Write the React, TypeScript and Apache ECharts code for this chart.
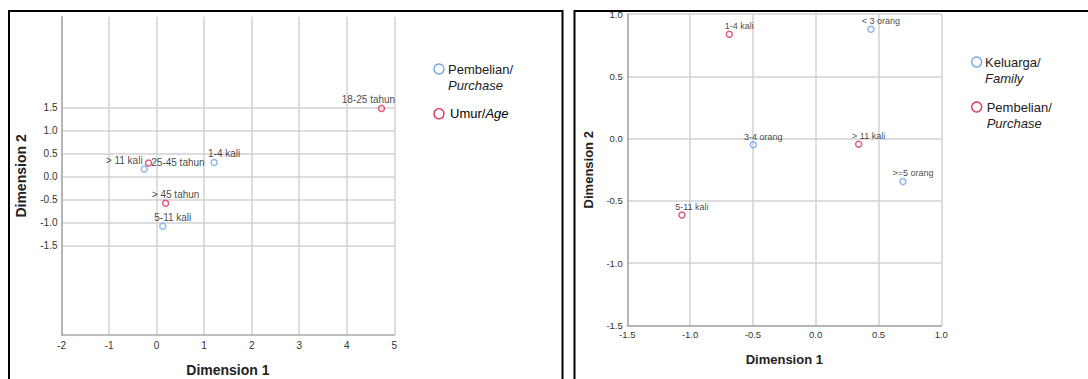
import React, { useEffect, useRef } from 'react';
import * as echarts from 'echarts';

// ---------- data ----------
const leftXTicks = [-2, -1, 0, 1, 2, 3, 4, 5];
const leftYTicks = [-1.5, -1.0, -0.5, 0.0, 0.5, 1.0, 1.5];
const leftPurchaseNames = ['> 11 kali', '1-4 kali', '5-11 kali'];
const leftPurchaseX = [-0.26, 1.21, 0.13];
const leftPurchaseY = [0.17, 0.31, -1.08];
const leftAgeNames = ['18-25 tahun', '25-45 tahun', '> 45 tahun'];
const leftAgeX = [4.73, -0.17, 0.19];
const leftAgeY = [1.49, 0.3, -0.58];

const rightTicks = [-1.5, -1.0, -0.5, 0.0, 0.5, 1.0];
const rightFamilyNames = ['< 3 orang', '3-4 orang', '>=5 orang'];
const rightFamilyX = [0.44, -0.497, 0.695];
const rightFamilyY = [0.877, -0.05, -0.345];
const rightPurchaseNames = ['1-4 kali', '> 11 kali', '5-11 kali'];
const rightPurchaseX = [-0.688, 0.342, -1.065];
const rightPurchaseY = [0.837, -0.045, -0.614];

const axisTitleX = 'Dimension 1';
const axisTitleY = 'Dimension 2';
const leftLegend = [
  { main: 'Pembelian/', italic: 'Purchase', twoLines: true },
  { main: 'Umur/', italic: 'Age', twoLines: false },
];
const rightLegend = [
  { main: 'Keluarga/', italic: 'Family', twoLines: true },
  { main: 'Pembelian/', italic: 'Purchase', twoLines: true },
];

// ---------- styles ----------
const FONT = '"Liberation Sans", Arial, sans-serif';
const BLUE = '#72a6ea';
const RED = '#dc3560';
const GRID = '#d2d2d2';
const AXIS = '#a8a8a8';

// label overrides (style, not data)
const labelOverride: Record<string, any> = {
  'L:18-25 tahun': { offset: [-13, 0] },
  'L:> 11 kali': { offset: [-20, 0] },
  'L:25-45 tahun': { position: 'right', distance: 0, offset: [-1, 0] },
};

function makeData(panel: string, names: string[], xs: number[], ys: number[]) {
  return names.map((n, i) => {
    const o = labelOverride[panel + ':' + n];
    const item: any = { name: n, value: [xs[i], ys[i]] };
    if (o) item.label = o;
    return item;
  });
}

export default function App() {
  const ref = useRef<HTMLDivElement>(null);
  useEffect(() => {
    if (!ref.current) return;
    const chart = echarts.init(ref.current, undefined, { renderer: 'svg' });

    const tickLabel = (size: number) => ({
      color: '#333',
      fontSize: size,
      fontFamily: FONT,
    });

    const scatter = (name: string, color: string, data: any[], xi: number, fs: number) => ({
      type: 'scatter',
      name,
      xAxisIndex: xi,
      yAxisIndex: xi,
      symbol: 'circle',
      symbolSize: 6,
      itemStyle: { color: 'rgba(255,255,255,0)', borderColor: color, borderWidth: 1.5 },
      label: {
        show: true,
        formatter: '{b}',
        position: 'top',
        distance: 0,
        offset: [10, 0],
        color: '#111',
        fontSize: fs,
        fontFamily: FONT,
      },
      data,
      z: 5,
    });

    const legendGraphics = (items: any[], cx: number, tx: number[], ys: number[], fs: number) => {
      const els: any[] = [];
      items.forEach((it, i) => {
        const color = i === 0 ? BLUE : RED;
        els.push({
          type: 'circle',
          shape: { cx, cy: ys[i], r: 5 },
          style: { fill: 'none', stroke: color, lineWidth: 1.4 },
        });
        if (it.twoLines) {
          els.push({
            type: 'text',
            x: tx[i],
            y: ys[i],
            style: { text: it.main, font: `${fs}px ${FONT}`, fill: '#222', verticalAlign: 'middle' },
          });
          els.push({
            type: 'text',
            x: tx[i],
            y: ys[i] + 16.5,
            style: { text: it.italic, font: `italic ${fs}px ${FONT}`, fill: '#222', verticalAlign: 'middle' },
          });
        } else {
          els.push({
            type: 'text',
            x: tx[i],
            y: ys[i],
            style: {
              text: `{n|${it.main}}{i|${it.italic}}`,
              verticalAlign: 'middle',
              rich: {
                n: { fontSize: fs, fontFamily: FONT, color: '#222' },
                i: { fontSize: fs, fontFamily: FONT, fontStyle: 'italic', color: '#222' },
              },
            },
          });
        }
      });
      return els;
    };

    const option: any = {
      animation: false,
      backgroundColor: '#fff',
      grid: [
        { left: 61.5, top: 16.7, width: 332.8, height: 318.5, outerBoundsMode: 'none', containLabel: false },
        { left: 627.3, top: 14, width: 314, height: 311.5, outerBoundsMode: 'none', containLabel: false },
      ],
      xAxis: [
        {
          gridIndex: 0,
          type: 'value',
          min: leftXTicks[0],
          max: leftXTicks[leftXTicks.length - 1],
          interval: 1,
          axisLine: { show: true, onZero: false, lineStyle: { color: AXIS, width: 1.5 } },
          axisTick: { show: false },
          splitLine: { show: true, lineStyle: { color: GRID, width: 1.5 } },
          axisLabel: { ...tickLabel(10), margin: 5 },
          name: axisTitleX,
          nameLocation: 'middle',
          nameGap: 28,
          nameTextStyle: { fontSize: 14, fontWeight: 'bold', fontFamily: FONT, color: '#222' },
        },
        {
          gridIndex: 1,
          type: 'value',
          min: rightTicks[0],
          max: rightTicks[rightTicks.length - 1],
          interval: 0.5,
          axisLine: { show: true, onZero: false, lineStyle: { color: AXIS, width: 1.5 } },
          axisTick: { show: false },
          splitLine: { show: true, lineStyle: { color: GRID, width: 1.5 } },
          axisLabel: { ...tickLabel(9.5), margin: 4, formatter: (v: number) => v.toFixed(1) },
          name: axisTitleX,
          nameLocation: 'middle',
          nameGap: 27,
          nameTextStyle: { fontSize: 13, fontWeight: 'bold', fontFamily: FONT, color: '#222' },
        },
      ],
      yAxis: [
        {
          gridIndex: 0,
          type: 'value',
          min: -3.456,
          max: 3.49,
          axisLine: { show: true, onZero: false, lineStyle: { color: AXIS, width: 1.5 } },
          axisTick: { show: false, customValues: leftYTicks },
          splitLine: { show: true, lineStyle: { color: GRID, width: 1.5 } },
          axisLabel: {
            ...tickLabel(10),
            margin: 4,
            customValues: leftYTicks,
            formatter: (v: number) => v.toFixed(1),
          },
          name: axisTitleY,
          nameLocation: 'middle',
          nameGap: 34,
          nameTextStyle: { fontSize: 14, fontWeight: 'bold', fontFamily: FONT, color: '#222' },
        },
        {
          gridIndex: 1,
          type: 'value',
          min: rightTicks[0],
          max: rightTicks[rightTicks.length - 1],
          interval: 0.5,
          axisLine: { show: true, onZero: false, lineStyle: { color: AXIS, width: 1.5 } },
          axisTick: { show: false },
          splitLine: { show: true, lineStyle: { color: GRID, width: 1.5 } },
          axisLabel: { ...tickLabel(9.5), margin: 4.5, formatter: (v: number) => v.toFixed(1) },
          name: axisTitleY,
          nameLocation: 'middle',
          nameGap: 32,
          nameTextStyle: { fontSize: 13, fontWeight: 'bold', fontFamily: FONT, color: '#222' },
        },
      ],
      series: [
        scatter('Pembelian', BLUE, makeData('L', leftPurchaseNames, leftPurchaseX, leftPurchaseY), 0, 10),
        scatter('Umur', RED, makeData('L', leftAgeNames, leftAgeX, leftAgeY), 0, 10),
        scatter('Keluarga', BLUE, makeData('R', rightFamilyNames, rightFamilyX, rightFamilyY), 1, 9),
        scatter('Pembelian2', RED, makeData('R', rightPurchaseNames, rightPurchaseX, rightPurchaseY), 1, 9),
      ],
      graphic: [
        {
          type: 'rect',
          shape: { x: 9, y: 11, width: 553.5, height: 420 },
          style: { fill: 'none', stroke: '#000', lineWidth: 2 },
          silent: true,
        },
        {
          type: 'rect',
          shape: { x: 574.5, y: 11, width: 600, height: 420 },
          style: { fill: 'none', stroke: '#000', lineWidth: 2 },
          silent: true,
        },
        ...legendGraphics(leftLegend, 439, [448, 450], [69, 113.7], 13),
        ...legendGraphics(rightLegend, 976.7, [985, 986.7], [62, 107], 13),
      ],
    };
    chart.setOption(option);
    return () => chart.dispose();
  }, []);
  return (
    <div
      ref={ref}
      style={{ position: 'absolute', left: 0, top: 0, width: 1088, height: 379 }}
    />
  );
}
